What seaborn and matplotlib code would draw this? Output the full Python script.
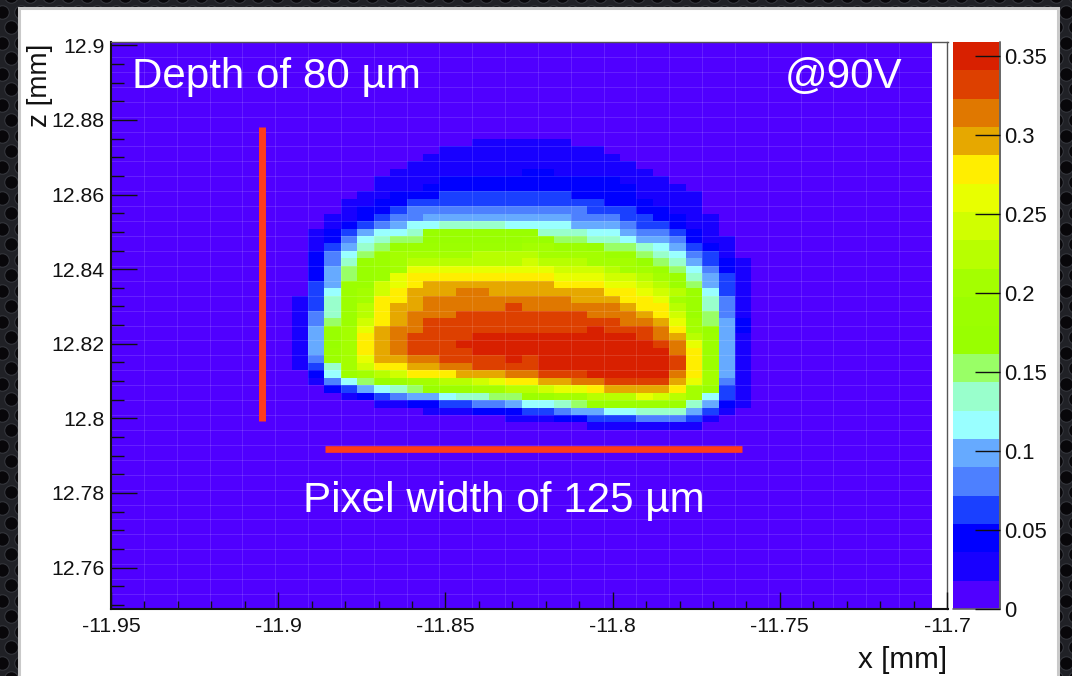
import numpy as np
import pandas as pd
import matplotlib
matplotlib.use("Agg")
import matplotlib.pyplot as plt
from matplotlib.colors import ListedColormap, BoundaryNorm
from matplotlib.patches import Rectangle
from matplotlib.ticker import FixedLocator
import seaborn as sns

# ---------- data ----------
# colour bands of the palette, low to high
BAND_COLOURS = ["#5000ff", "#1800ff", "#0000ff", "#1a40ff", "#4d80ff", "#66aaff",
                "#99ffff", "#99ffcc", "#99ff66", "#99ff00", "#9cff00", "#a4ff00",
                "#b8ff00", "#d0ff00", "#e8ff00", "#ffee00", "#e6a800", "#e07800",
                "#dd4000", "#d82000"]
Z_MAX = 0.3589
# each row lists the band of the cells, base 20 (0-9, a-j); first char is column 11
FIRST_COL = 11
FIRST_ROW = 13
BAND_ROWS = [
    "00000000000" "111111" "00000000000",
    "000000000" "1111111111" "000000000",
    "00000000" "111111111111" "00000000",
    "0000000" "11111111111111" "0000000",
    "000000" "11111111" "22" "111111" "000000",
    "00000" "1111" "22222222222" "111" "00000",
    "00000" "111" "2222222222222" "111" "0000",
    "0000" "11" "222" "33333333" "2222" "1111" "000",
    "000" "11" "22" "333333333333" "222" "111" "000",
    "000" "1" "22" "3" "44444444444" "333" "22" "11" "000",
    "00" "11" "2" "3" "44" "555555555" "444" "33" "22" "11" "00",
    "00" "1" "2" "3" "4" "5" "66" "7777" "6666" "555" "4" "33" "2" "11" "00",
    "0" "1" "2" "3" "5" "66" "7" "9999999" "777" "66" "5" "44" "3" "2" "1" "00",
    "0" "1" "2" "4" "6" "7" "88" "999999" "a" "9" "88" "77" "6" "55" "4" "2" "11" "0",
    "0135789" "aaaaaaa" "bb" "aa" "9" "88" "7" "6" "5" "3" "2" "1" "0",
    "02468a" "bb" "bbbccc" "c" "bbbb" "aa" "8" "7" "6" "4" "3" "1" "0",
    "02479ab" "ccccccc" "d" "ccc" "bbb" "9" "8" "7" "5" "3" "2" "1",
    "02589ab" "eeeeeee" "ee" "ddd" "c" "bb" "a" "8" "6" "4" "2" "1",
    "02589ae" "fffffff" "ff" "eee" "dd" "c" "b" "a" "7" "5" "3" "1",
    "035aadef" "gggggg" "gg" "fff" "ee" "d" "c" "a" "8" "5" "3" "1",
    "036abdf" "ggg" "hh" "ggggggg" "ff" "e" "d" "c" "a" "6" "3" "1",
    "137abffghh" "hhhh" "hhh" "ggg" "ff" "e" "b" "a" "7" "4" "1",
    "137acfgghh" "hhh" "i" "hhhhhh" "g" "ff" "c" "a" "7" "4" "1",
    "147acfghhh" "iiiiiiii" "hhh" "g" "f" "d" "a" "8" "4" "1",
    "148adfghii" "iiiiiiiiii" "hh" "g" "e" "b" "8" "5" "2",
    "159beghhii" "iiiiiiii" "j" "iii" "h" "f" "b" "9" "5" "2",
    "159bfghiii" "i" "jjjjjjjjjj" "i" "h" "g" "c" "a" "5" "1",
    "159bfghiii" "jjjjjjjjjjjj" "i" "h" "e" "a" "5" "1",
    "15abfghiii" "i" "jjjjjjjjjjjj" "h" "f" "a" "5" "1",
    "14abegghhi" "iii" "j" "i" "jjjjjjjj" "i" "f" "a" "5" "1",
    "137bdffggh" "h" "iiii" "jjjjjjjj" "i" "f" "a" "5" "1",
    "026abcdfff" "ggg" "hh" "iii" "jjjjj" "h" "f" "b" "5" "1",
    "014689abbc" "c" "d" "e" "f" "f" "gg" "hh" "iiii" "g" "e" "b" "4" "1",
    "002356789a" "a" "bb" "cc" "d" "ee" "f" "gggg" "f" "b" "9" "3" "1",
    "0001234556" "77" "88" "aa" "bb" "ccc" "e" "d" "c" "b" "6" "3" "1",
    "00000" "11" "22" "33" "44" "5" "66" "7" "8" "99" "aaaa" "7" "5" "2" "1",
    "00000000" "111" "222" "33" "4" "55" "66" "777" "5" "3" "1" "0",
    "0000000000000" "111" "22" "333" "444" "3" "1" "00",
    "000000000000000000" "1111111" "000",
]
X_TICKS = [-11.95, -11.9, -11.85, -11.8, -11.75, -11.7]
X_TICK_LABELS = ["-11.95", "-11.9", "-11.85", "-11.8", "-11.75", "-11.7"]
Y_TICKS = [12.76, 12.78, 12.8, 12.82, 12.84, 12.86, 12.88, 12.9]
Y_TICK_LABELS = ["12.76", "12.78", "12.8", "12.82", "12.84", "12.86", "12.88", "12.9"]
CB_TICKS = [0, 0.05, 0.1, 0.15, 0.2, 0.25, 0.3, 0.35]
CB_LABELS = ["0", "0.05", "0.1", "0.15", "0.2", "0.25", "0.3", "0.35"]
# marker bars in mm
V_BAR_X = [-11.9048, -11.9048]
V_BAR_Z = [12.8781, 12.7994]
H_BAR_X = [-11.886, -11.7613]
H_BAR_Z = [12.7919, 12.7919]

# ---------- grid ----------
N_COLS, N_ROWS = 50, 76
X0, DX = -11.95, 0.00491      # left edge, cell width
Z_TOP, DZ = 12.9009, 0.002    # top edge, cell height

values = np.zeros((N_ROWS, N_COLS))
step = Z_MAX / len(BAND_COLOURS)
for i, row in enumerate(BAND_ROWS):
    assert len(row) == 28, (i + FIRST_ROW, len(row))
    for j, ch in enumerate(row):
        values[FIRST_ROW + i, FIRST_COL + j] = (int(ch, 20) + 0.5) * step

x_centres = X0 + DX * (np.arange(N_COLS) + 0.5)
z_centres = Z_TOP - DZ * (np.arange(N_ROWS) + 0.5)
frame = pd.DataFrame(values, index=np.round(z_centres, 4), columns=np.round(x_centres, 4))

def xi(x):
    return (np.asarray(x) - X0) / DX

def zi(z):
    return (Z_TOP - np.asarray(z)) / DZ

# ---------- figure ----------
W, H = 1072, 676
sns.set_theme(style="white")
plt.rcParams["font.family"] = ["Liberation Sans", "DejaVu Sans"]
fig = plt.figure(figsize=(W / 100, H / 100), dpi=100, facecolor="#202126")

def px_axes(l, t, r, b, **kw):
    return fig.add_axes([l / W, 1 - b / H, (r - l) / W, (b - t) / H], **kw)

# backdrop with perforated pattern
bg = px_axes(0, 0, W, H)
bg.set_xlim(0, W); bg.set_ylim(H, 0); bg.axis("off")
hx, hy = [], []
for r_i, y in enumerate(np.arange(-4, H + 20, 15.5)):
    for x in np.arange(-8 + (r_i % 2) * 9.5, W + 20, 19):
        hx.append(x); hy.append(y)
bg.scatter(hx, hy, s=95, color="#08070a", edgecolor="#34363c", linewidth=0.8)
bg.add_patch(Rectangle((19, 7.5), 1039, 700, facecolor="white", edgecolor="#c9c9c9",
                       linewidth=2.2, zorder=3))

ax = px_axes(111, 42, 947.5, 609)
cax = px_axes(953, 42, 1000, 609)
cmap = ListedColormap(BAND_COLOURS)
norm = BoundaryNorm(np.linspace(0, Z_MAX, len(BAND_COLOURS) + 1), cmap.N)
ax.set_facecolor("white")
sns.heatmap(frame, ax=ax, cbar_ax=cax, cmap=cmap, norm=norm, xticklabels=False,
            yticklabels=False, cbar_kws={"drawedges": False})
ax.set_xlim(0, (947.5 - 111) / 16.42)
ax.set_ylim(N_ROWS, 0)
ax.set_xlabel(""); ax.set_ylabel("")
ax.set_axisbelow(False)

# faint cell lines
ax.vlines(np.arange(2, N_COLS, 2), 0, N_ROWS, color="white", alpha=0.13, lw=0.7)
ax.hlines(np.arange(2, N_ROWS, 2), 0, N_COLS, color="white", alpha=0.13, lw=0.7)

# axes
ax.set_xticks(xi(X_TICKS)); ax.set_xticklabels(X_TICK_LABELS)
ax.set_yticks(zi(Y_TICKS)); ax.set_yticklabels(Y_TICK_LABELS)
x_minor = [-11.95 + 0.01 * k for k in range(26)]
z_minor = [12.75 + 0.005 * k for k in range(31)]
ax.xaxis.set_minor_locator(FixedLocator(xi(x_minor)))
ax.yaxis.set_minor_locator(FixedLocator(zi(z_minor)))
ax.tick_params(axis="x", which="major", direction="in", length=12, width=1.0, color="#111111",
               labelsize=15.3, pad=6, labelcolor="#111111", bottom=True)
ax.tick_params(axis="x", which="minor", direction="in", length=6, width=1.0, color="#111111", bottom=True)
ax.tick_params(axis="y", which="major", direction="in", length=18.5, width=1.0, color="#111111",
               labelsize=15.3, pad=4.5, labelcolor="#111111", left=True)
ax.tick_params(axis="y", which="minor", direction="in", length=9, width=1.0, color="#111111", left=True)
for name, sp in ax.spines.items():
    sp.set_visible(True)
    sp.set_linewidth(1.5 if name in ("left", "bottom") else 1.0)
    sp.set_color("#111111" if name in ("left", "bottom") else "#555555")

# marker bars and notes
ax.plot(xi(V_BAR_X), zi(V_BAR_Z), color="#ff3c1c", lw=5, solid_capstyle="butt")
ax.plot(xi(H_BAR_X), zi(H_BAR_Z), color="#ff3c1c", lw=4.8, solid_capstyle="butt")
fig.text(132 / W, 1 - 77 / H, "Depth of 80 µm", color="white", fontsize=30.3, va="center", ha="left")
fig.text(902 / W, 1 - 77 / H, "@90V", color="white", fontsize=30.3, va="center", ha="right")
fig.text(303 / W, 1 - 501 / H, "Pixel width of 125 µm", color="white", fontsize=30.3, va="center", ha="left")
fig.text(947 / W, 1 - 660 / H, "x [mm]", color="#111111", fontsize=21.3, va="center", ha="right")
fig.text(40 / W, 1 - 44 / H, "z [mm]", color="#111111", fontsize=20, va="top", ha="center",
         rotation=90)

# colour bar
cb = ax.collections[0].colorbar
cb.set_ticks(CB_TICKS)
cb.set_ticklabels(CB_LABELS)
cb.minorticks_off()
cax.set_axisbelow(False)
cax.tick_params(axis="y", which="major", direction="in", length=18, width=1.0, color="#111111",
                labelsize=15.8, pad=3, labelcolor="#111111", right=True, left=False)
cb.outline.set_visible(False)
cax.axvline(1, color="#666666", lw=1.4, clip_on=False)
cax.axhline(0, color="#666666", lw=1.2, clip_on=False)

fig.savefig("out.png", dpi=100, facecolor=fig.get_facecolor())
